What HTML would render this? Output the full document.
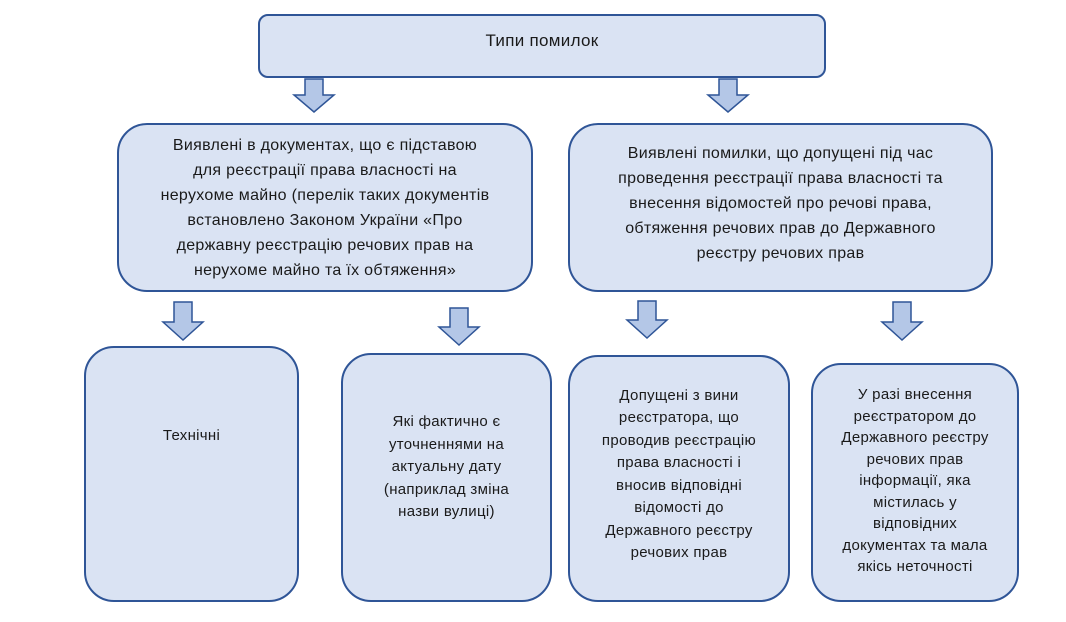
<!DOCTYPE html>
<html><head><meta charset="utf-8"><style>
body{margin:0;width:1066px;height:622px;background:#fff;position:relative;font-family:"Liberation Sans","DejaVu Sans",sans-serif;color:#1a1a1a;overflow:hidden}
.b{position:absolute;box-sizing:border-box;background:#dae3f3;border:2px solid #2f5597;display:flex;align-items:center;justify-content:center;text-align:center;letter-spacing:0.3px}
.t{font-size:16px;line-height:25px}
.s{font-size:15px;line-height:22.5px}
svg{position:absolute;left:0;top:0}
</style></head><body>
<div class="b t" style="left:258px;top:14px;width:568px;height:64px;border-radius:10px;font-size:17px;padding-bottom:12px">Типи помилок</div>
<div class="b t" style="left:117px;top:123px;width:416px;height:169px;border-radius:30px">Виявлені в документах, що є підставою<br>для реєстрації права власності на<br>нерухоме майно (перелік таких документів<br>встановлено Законом України «Про<br>державну реєстрацію речових прав на<br>нерухоме майно та їх обтяження»</div>
<div class="b t" style="left:568px;top:123px;width:425px;height:169px;border-radius:30px;padding-bottom:8px">Виявлені помилки, що допущені під час<br>проведення реєстрації права власності та<br>внесення відомостей про речові права,<br>обтяження речових прав до Державного<br>реєстру речових прав</div>
<div class="b s" style="left:84px;top:346px;width:215px;height:256px;border-radius:30px;padding-bottom:76px">Технічні</div>
<div class="b s" style="left:341px;top:353px;width:211px;height:249px;border-radius:30px;padding-bottom:20px">Які фактично є<br>уточненнями на<br>актуальну дату<br>(наприклад зміна<br>назви вулиці)</div>
<div class="b s" style="left:568px;top:355px;width:222px;height:247px;border-radius:30px;padding-bottom:8px">Допущені з вини<br>реєстратора, що<br>проводив реєстрацію<br>права власності і<br>вносив відповідні<br>відомості до<br>Державного реєстру<br>речових прав</div>
<div class="b s" style="left:811px;top:363px;width:208px;height:239px;border-radius:30px;padding-top:0;padding-bottom:0;line-height:21.5px;align-items:flex-start;padding-top:19px">У разі внесення<br>реєстратором до<br>Державного реєстру<br>речових прав<br>інформації, яка<br>містилась у<br>відповідних<br>документах та мала<br>якісь неточності</div>
<svg width="1066" height="622">
<g fill="#b4c7e7" stroke="#2f5597" stroke-width="1.5">
<path d="M305,79 h18 v16 h11 l-20,17 l-20,-17 h11 z"/>
<path d="M719,79 h18 v16 h11 l-20,17 l-20,-17 h11 z"/>
<path d="M174,302 h18 v20 h11 l-20,18 l-20,-18 h11 z"/>
<path d="M450,308 h18 v19 h11 l-20,18 l-20,-18 h11 z"/>
<path d="M638,301 h18 v19 h11 l-20,18 l-20,-18 h11 z"/>
<path d="M893,302 h18 v20 h11 l-20,18 l-20,-18 h11 z"/>
</g></svg>
</body></html>
